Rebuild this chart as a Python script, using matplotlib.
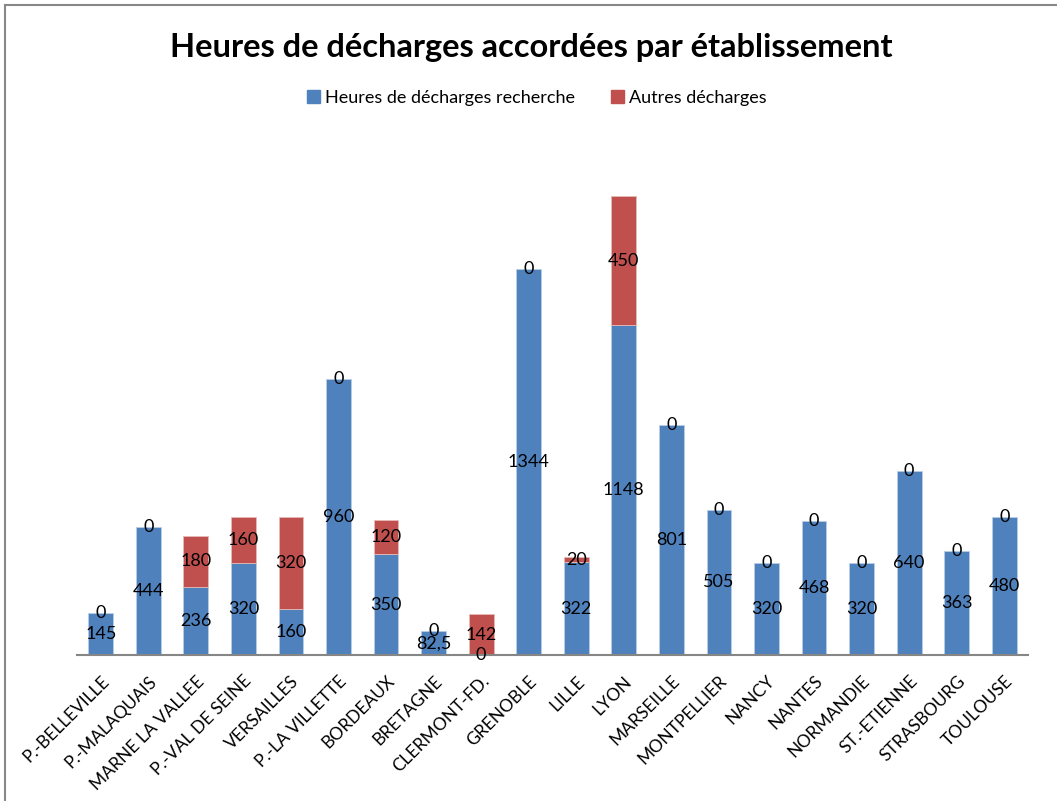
import matplotlib
matplotlib.use("Agg")
import matplotlib.pyplot as plt
from matplotlib.lines import Line2D
from matplotlib.patches import Patch

plt.rcParams['font.family'] = ['Lato', 'DejaVu Sans']

# établissements and hours
etablissements = ["P.-BELLEVILLE", "P.-MALAQUAIS", "MARNE LA VALLEE", "P.-VAL DE SEINE",
                  "VERSAILLES", "P.-LA VILLETTE", "BORDEAUX", "BRETAGNE", "CLERMONT-FD.",
                  "GRENOBLE", "LILLE", "LYON", "MARSEILLE", "MONTPELLIER", "NANCY",
                  "NANTES", "NORMANDIE", "ST.-ETIENNE", "STRASBOURG", "TOULOUSE"]
recherche = [145, 444, 236, 320, 160, 960, 350, 82.5, 0, 1344,
             322, 1148, 801, 505, 320, 468, 320, 640, 363, 480]
autres = [0, 0, 180, 160, 320, 0, 120, 0, 142, 0,
          20, 450, 0, 0, 0, 0, 0, 0, 0, 0]

blue = "#4F81BD"
red = "#C0504D"


def fmt(v):
    # french decimal comma
    if v == int(v):
        return str(int(v))
    return str(v).replace(".", ",")


fig = plt.figure(figsize=(10.57, 8.01), dpi=100)
ax = fig.add_axes([0.0728, 0.1823, 0.8998, 0.6454])

x = range(len(etablissements))
b1 = ax.bar(x, recherche, width=0.52, color=blue,
            edgecolor=["#B9CDE5" if v else "none" for v in recherche], linewidth=0.6)
b2 = ax.bar(x, autres, width=0.52, bottom=recherche, color=red,
            edgecolor=["#E6B9B8" if v else "none" for v in autres], linewidth=0.6)

ax.bar_label(b1, labels=[fmt(v) for v in recherche], label_type="center", fontsize=13)
ax.bar_label(b2, labels=[fmt(v) for v in autres], label_type="center", fontsize=13)

ax.set_xlim(-0.5, len(etablissements) - 0.5)
ax.set_ylim(0, 1800)
ax.set_yticks([])
for s in ["left", "right", "top"]:
    ax.spines[s].set_visible(False)
ax.spines["bottom"].set_color("#868686")
ax.spines["bottom"].set_linewidth(1.5)

ax.set_xticks(list(x))
ax.set_xticklabels(etablissements, rotation=45, ha="right", va="top",
                   rotation_mode="anchor", fontsize=12.5)
ax.tick_params(axis="x", length=0, pad=13)

fig.text(0.5024, 0.941, "Heures de décharges accordées par établissement",
         ha="center", va="center", fontsize=23.5, fontweight="bold")

handles = [Patch(color=blue), Patch(color=red)]
fig.legend(handles, ["Heures de décharges recherche", "Autres décharges"],
           loc="center", bbox_to_anchor=(537 / 1057, 1 - 98 / 801), ncol=2,
           frameon=False, fontsize=13, handlelength=0.7, handleheight=0.7,
           handletextpad=0.3, columnspacing=2.0)

# chart area border, only top and left show in the reference
fig.add_artist(Line2D([0.005, 0.005], [0.0, 0.994], transform=fig.transFigure,
                      color="#888888", linewidth=1.5))
fig.add_artist(Line2D([0.005, 1.0], [0.994, 0.994], transform=fig.transFigure,
                      color="#888888", linewidth=1.5))

fig.savefig("out.png", dpi=100)
